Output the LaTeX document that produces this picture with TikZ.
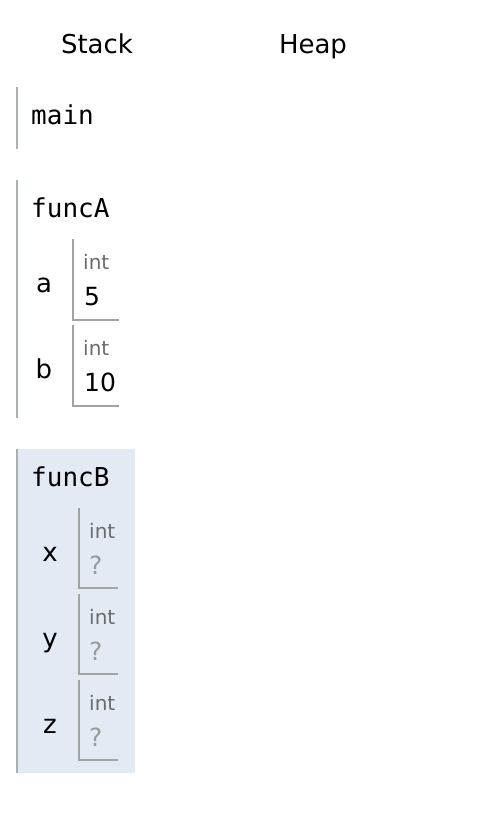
\documentclass[tikz,border=0pt]{standalone}
\usepackage{fontspec}
\setmainfont{DejaVu Sans}
\setmonofont{DejaVu Sans Mono}
\usepackage{xcolor}
\usepackage{tikz}
\usetikzlibrary{positioning}

\definecolor{framegray}{HTML}{A9B1B1}
\definecolor{boxgray}{HTML}{A3A3A3}
\definecolor{typegray}{HTML}{6B6B6B}
\definecolor{unsetgray}{HTML}{9A9A9A}
\definecolor{activeblue}{HTML}{E4EAF4}

\begin{document}
\begin{tikzpicture}[x=1pt, y=-1pt,
    title/.style={font=\fontsize{26}{26}\selectfont, anchor=base},
    fname/.style={font=\ttfamily\fontsize{26}{26}\selectfont, anchor=base west},
    var/.style={font=\fontsize{26}{26}\selectfont, anchor=base},
    type/.style={font=\fontsize{20}{20}\selectfont, text=typegray, anchor=base west, inner sep=0pt},
    val/.style={font=\fontsize{25}{25}\selectfont, anchor=base west, inner sep=0pt},
    bar/.style={framegray, line width=2pt},
    box/.style={boxgray, line width=1.5pt}]
    \useasboundingbox (0,0) rectangle (496,816);

    % Headers
    \node[title] (stack) at (97,53) {Stack};
    \node[title] (heap) at (313,53) {Heap};

    % main
    \draw[bar] (17,87) -- (17,149);
    \node[fname, inner sep=0pt] (main) at (31,124) {main};

    % funcA
    \draw[bar] (17,180) -- (17,418);
    \node[fname, inner sep=0pt] (funcA) at (31,217) {funcA};

    \node[var] (a) at (44,292) {a};
    \draw[box] (73,239) -- (73,320) -- (119,320);
    \node[type] (aType) at (83,269) {int};
    \node[val] (aVal) at (84,305) {5};

    \node[var] (b) at (44,378) {b};
    \draw[box] (73,325) -- (73,406) -- (119,406);
    \node[type] (bType) at (83,355) {int};
    \node[val] (bVal) at (84,391) {10};

    % funcB (active frame)
    \fill[activeblue] (17,449) rectangle (135,773);
    \draw[bar] (17,449) -- (17,773);
    \node[fname, inner sep=0pt] (funcB) at (31,486) {funcB};

    \foreach \v [count=\i from 0] in {x,y,z} {
        \node[var] (\v) at (50,561+86*\i) {\v};
        \draw[box] (79,508+86*\i) -- (79,588+86*\i) -- (118,588+86*\i);
        \node[type] (\v Type) at (89,538+86*\i) {int};
        \node[val, text=unsetgray] (\v Val) at (89,574+86*\i) {?};
    }
\end{tikzpicture}
\end{document}
